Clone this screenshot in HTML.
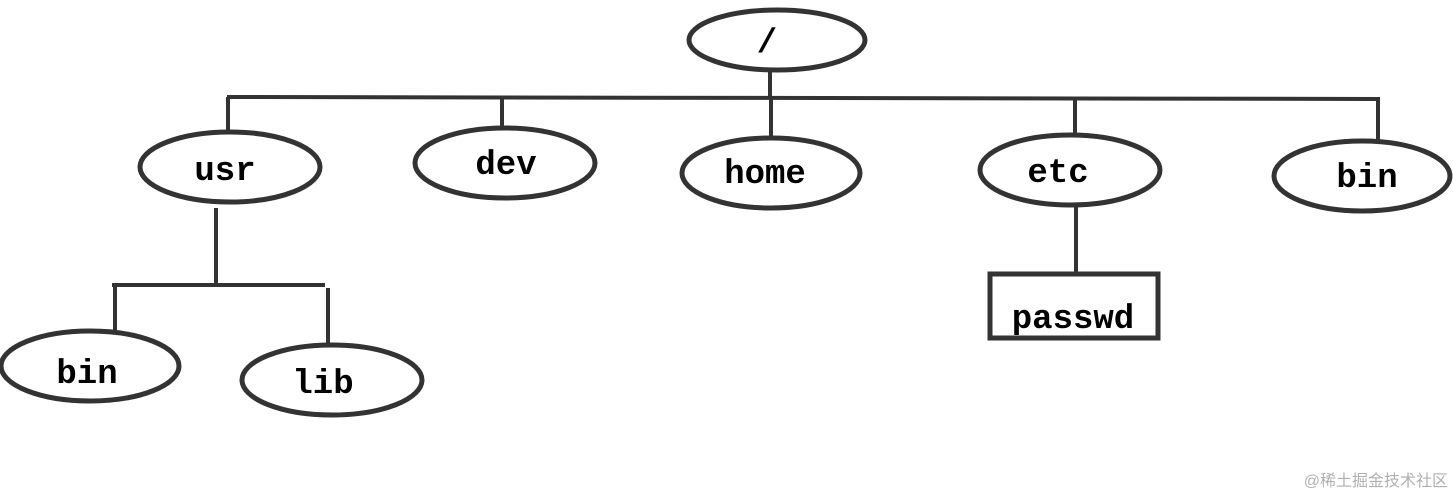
<!DOCTYPE html>
<html><head><meta charset="utf-8"><style>
html,body{margin:0;padding:0;background:#fff;width:1453px;height:496px;overflow:hidden}
svg{display:block}
.t{font-family:"Liberation Mono",monospace;font-weight:bold;font-size:34px;fill:#000}
</style></head><body>
<svg width="1453" height="496" xmlns="http://www.w3.org/2000/svg">
<g stroke="#333" stroke-width="4" fill="none">
<line x1="770" y1="68" x2="770" y2="98"/>
<line x1="227" y1="97" x2="1380" y2="99"/>
<line x1="228" y1="97" x2="228" y2="132"/>
<line x1="502" y1="98" x2="502" y2="130"/>
<line x1="771" y1="98" x2="771" y2="139"/>
<line x1="1075" y1="98" x2="1075" y2="136"/>
<line x1="1378" y1="99" x2="1378" y2="141"/>
<line x1="216" y1="208" x2="216" y2="284"/>
<line x1="112" y1="285" x2="325" y2="285"/>
<line x1="115" y1="285" x2="115" y2="330"/>
<line x1="328" y1="288" x2="328" y2="346"/>
<line x1="1076" y1="207" x2="1076" y2="273"/>
</g>
<g stroke="#333" stroke-width="5" fill="#fff">
<ellipse cx="777" cy="40" rx="88" ry="30"/>
<ellipse cx="230" cy="167" rx="90" ry="35"/>
<ellipse cx="505" cy="163" rx="90" ry="35"/>
<ellipse cx="771" cy="173" rx="89" ry="35"/>
<ellipse cx="1070" cy="170" rx="90" ry="35"/>
<ellipse cx="1362" cy="176" rx="88" ry="35"/>
<ellipse cx="90" cy="366" rx="89" ry="35"/>
<ellipse cx="332" cy="380" rx="90" ry="35"/>
<rect x="990" y="274" width="168" height="64"/>
</g>
<g class="t" text-anchor="middle">
<text x="767" y="52">/</text>
<text x="225" y="180">usr</text>
<text x="506" y="174">dev</text>
<text x="765" y="183">home</text>
<text x="1058" y="182">etc</text>
<text x="1367" y="187">bin</text>
<text x="87" y="383">bin</text>
<text x="323" y="393">lib</text>
<text x="1073" y="328">passwd</text>
</g>
<text x="1448" y="486" text-anchor="end" font-family="'Liberation Sans','Noto Sans CJK SC',sans-serif" font-size="16" fill="#b0b0b0">@稀土掘金技术社区</text>
</svg>
</body></html>
